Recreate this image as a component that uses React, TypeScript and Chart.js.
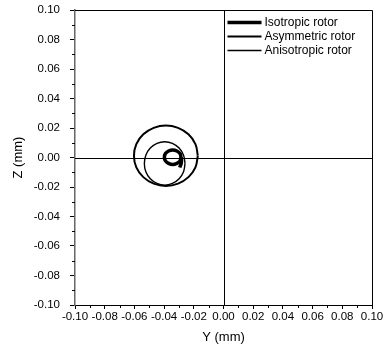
import { useEffect, useRef } from "react";
import { Chart, registerables } from "chart.js";

Chart.register(...registerables);

// Orbit traces: horizontal displacement Y and vertical displacement Z, in mm.
const isotropicY = [-0.0286, -0.0293, -0.0314, -0.0342, -0.037, -0.0391, -0.0398, -0.0391, -0.037, -0.0342, -0.0314, -0.0293, -0.0286, -0.0284, -0.0295];
const isotropicZ = [0.0002, 0.0027, 0.0044, 0.0051, 0.0044, 0.0027, 0.0002, -0.0023, -0.004, -0.0047, -0.004, -0.0023, 0.0002, -0.0035, -0.0068];

const asymmetricY = [-0.0173, -0.0189, -0.0236, -0.0306, -0.0388, -0.047, -0.054, -0.0587, -0.0603, -0.0587, -0.054, -0.047, -0.0388, -0.0306, -0.0236, -0.0189, -0.0173];
const asymmetricZ = [0.0012, 0.0091, 0.0157, 0.0201, 0.0217, 0.0201, 0.0157, 0.0091, 0.0012, -0.0067, -0.0133, -0.0177, -0.0193, -0.0177, -0.0133, -0.0067, 0.0012];

const anisotropicY = [-0.0259, -0.0269, -0.0299, -0.0344, -0.0396, -0.0448, -0.0493, -0.0523, -0.0533, -0.0523, -0.0493, -0.0448, -0.0396, -0.0344, -0.0299, -0.0269, -0.0259];
const anisotropicZ = [-0.004, 0.0016, 0.0064, 0.0096, 0.0107, 0.0096, 0.0064, 0.0016, -0.004, -0.0096, -0.0144, -0.0176, -0.0187, -0.0176, -0.0144, -0.0096, -0.004];

const seriesNames = ["Isotropic rotor", "Asymmetric rotor", "Anisotropic rotor"];
const axisMin = -0.1;
const axisMax = 0.1;
const majorStep = 0.02;
const minorTicks = [-0.09, -0.07, -0.05, -0.03, -0.01, 0.01, 0.03, 0.05, 0.07, 0.09];

const FONT = "'Liberation Sans', Arial, sans-serif";

const toPoints = (ys: number[], zs: number[]) => ys.map((y, i) => ({ x: y, y: zs[i] }));

const fmt = (v: number) => (Math.abs(v) < 1e-9 ? "0.00" : v.toFixed(2));

// Frame, zero lines, minor ticks and the legend block in the upper-right quadrant.
const decorations = {
  id: "decorations",
  beforeDatasetsDraw(chart: any) {
    const { ctx, chartArea, scales } = chart;
    const x0 = Math.round(scales.x.getPixelForValue(0)) + 0.5;
    const y0 = Math.round(scales.y.getPixelForValue(0)) + 0.5;
    ctx.save();
    ctx.strokeStyle = "#000";
    ctx.lineWidth = 1;
    ctx.beginPath();
    ctx.moveTo(x0, chartArea.top);
    ctx.lineTo(x0, chartArea.bottom);
    ctx.moveTo(chartArea.left, y0);
    ctx.lineTo(chartArea.right, y0);
    ctx.stroke();
    ctx.restore();
  },
  afterDraw(chart: any) {
    const { ctx, chartArea, scales } = chart;
    const top = Math.round(chartArea.top) + 0.5;
    const right = Math.round(chartArea.right) + 0.5;
    const bottom = chartArea.bottom;
    const left = chartArea.left;
    ctx.save();
    ctx.strokeStyle = "#000";
    ctx.lineWidth = 1;
    ctx.beginPath();
    ctx.moveTo(left, top);
    ctx.lineTo(right, top);
    ctx.lineTo(right, bottom);
    ctx.stroke();

    // minor ticks
    ctx.beginPath();
    minorTicks.forEach((v) => {
      const px = Math.round(scales.x.getPixelForValue(v)) + 0.5;
      ctx.moveTo(px, bottom);
      ctx.lineTo(px, bottom + 3);
      const py = Math.round(scales.y.getPixelForValue(v)) + 0.5;
      ctx.moveTo(left, py);
      ctx.lineTo(left - 3, py);
    });
    ctx.stroke();

    // legend
    const x0 = scales.x.getPixelForValue(0);
    const rows = [top + 12, top + 26, top + 40];
    ctx.font = `12px ${FONT}`;
    ctx.fillStyle = "#000";
    ctx.textBaseline = "middle";
    ctx.textAlign = "left";
    chart.data.datasets.forEach((ds: any, i: number) => {
      const y = rows[i];
      ctx.lineWidth = ds.borderWidth;
      ctx.beginPath();
      ctx.moveTo(x0 + 4, y);
      ctx.lineTo(x0 + 38, y);
      ctx.stroke();
      ctx.fillText(ds.label, x0 + 41, y + 0.5);
    });
    ctx.restore();
  },
};

export default function App() {
  const canvasRef = useRef<HTMLCanvasElement | null>(null);

  useEffect(() => {
    if (!canvasRef.current) return;
    const lineDataset = (label: string, data: any[], width: number) => ({
      label,
      data,
      showLine: true,
      borderColor: "#000",
      backgroundColor: "#000",
      borderWidth: width,
      pointRadius: 0,
      pointHoverRadius: 0,
      tension: 0.4,
      fill: false,
    });

    const tickFont = { family: FONT, size: 11.5 };
    const titleFont = { family: FONT, size: 13 };

    const chart = new Chart(canvasRef.current, {
      type: "scatter",
      data: {
        datasets: [
          lineDataset(seriesNames[0], toPoints(isotropicY, isotropicZ), 3.5),
          lineDataset(seriesNames[1], toPoints(asymmetricY, asymmetricZ), 2),
          lineDataset(seriesNames[2], toPoints(anisotropicY, anisotropicZ), 1.4),
        ],
      },
      options: {
        animation: false,
        responsive: true,
        maintainAspectRatio: false,
        devicePixelRatio: 1,
        layout: { padding: { top: 10, right: 13, left: 0, bottom: 0 } },
        plugins: {
          legend: { display: false },
          tooltip: { enabled: false },
        },
        scales: {
          x: {
            type: "linear",
            min: axisMin,
            max: axisMax,
            afterFit: (s: any) => {
              s.height = 45;
              s.paddingLeft = 0;
              s.paddingRight = 0;
            },
            ticks: {
              stepSize: majorStep,
              autoSkip: false,
              maxRotation: 0,
              minRotation: 0,
              padding: 1,
              color: "#000",
              font: tickFont,
              callback: (v: any) => fmt(Number(v)),
            },
            grid: { drawOnChartArea: false, drawTicks: true, tickLength: 4, color: "#000", tickColor: "#000" },
            border: { display: true, color: "#000", width: 1 },
            title: { display: true, text: "Y (mm)", color: "#000", font: titleFont, padding: { top: 0, bottom: 5 } },
          },
          y: {
            type: "linear",
            min: axisMin,
            max: axisMax,
            afterFit: (s: any) => {
              s.width = 75;
              s.paddingTop = 0;
              s.paddingBottom = 0;
            },
            ticks: {
              stepSize: majorStep,
              autoSkip: false,
              padding: 10,
              color: "#000",
              font: tickFont,
              callback: (v: any) => fmt(Number(v)),
            },
            grid: { drawOnChartArea: false, drawTicks: true, tickLength: 5, color: "#000", tickColor: "#000" },
            border: { display: true, color: "#666", width: 1.5 },
            title: { display: true, text: "Z (mm)", color: "#000", font: titleFont, padding: { top: 11, bottom: 0 } },
          },
        },
      },
      plugins: [decorations],
    });
    return () => chart.destroy();
  }, []);

  return (
    <div style={{ position: "fixed", left: 0, top: 0, width: 385, height: 350, background: "#fff" }}>
      <canvas ref={canvasRef} />
    </div>
  );
}
